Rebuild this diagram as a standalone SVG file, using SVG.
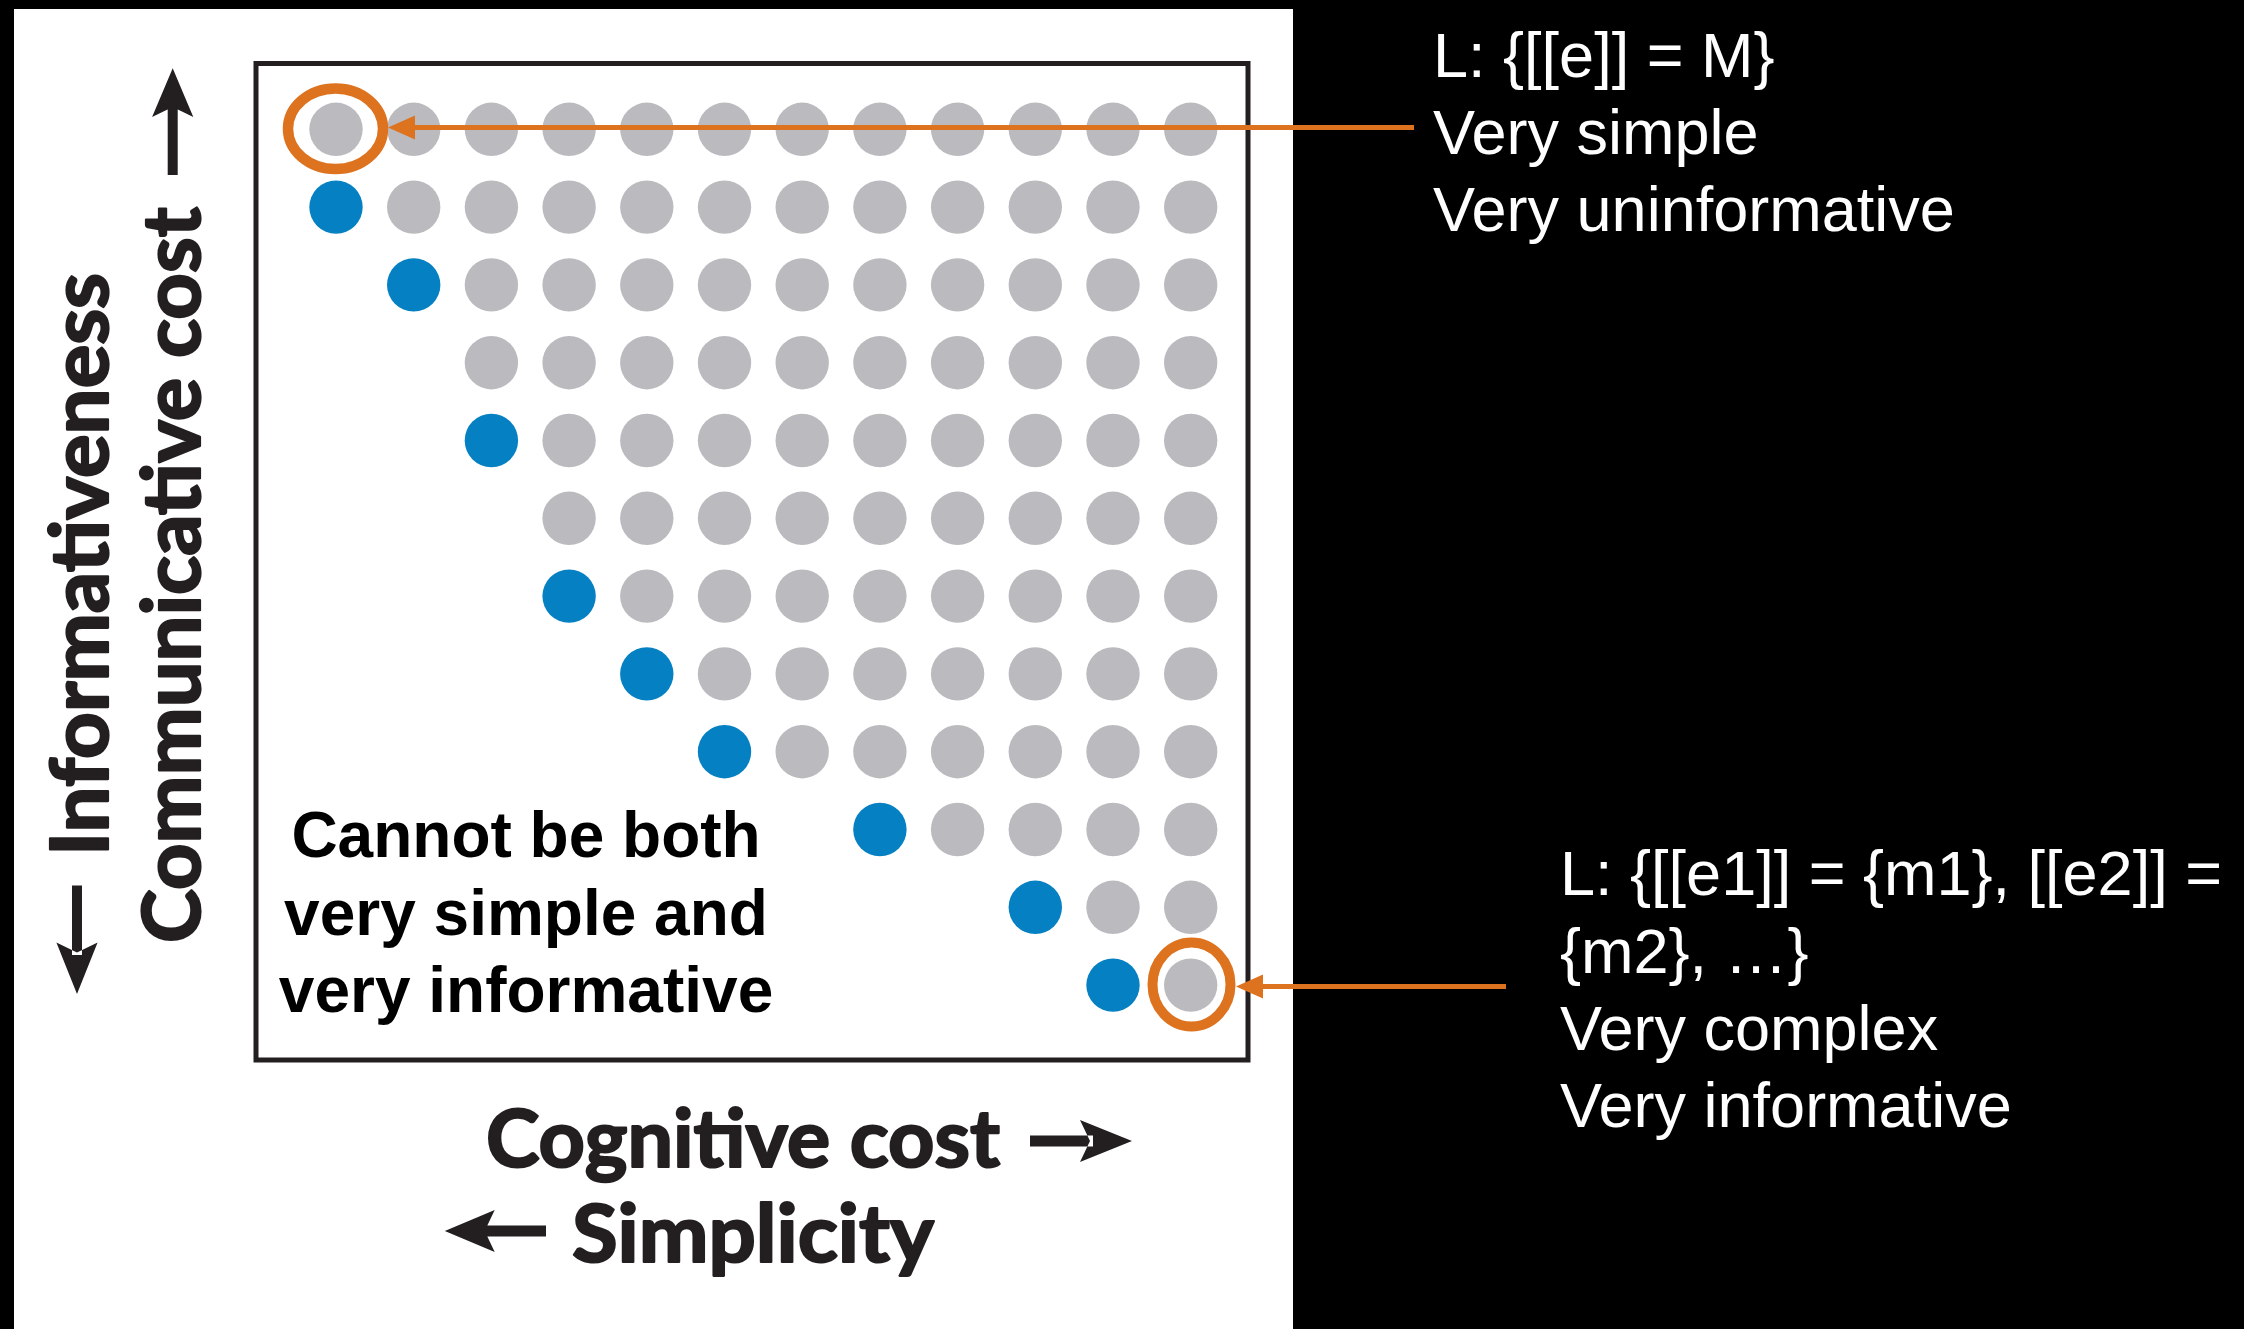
<svg xmlns="http://www.w3.org/2000/svg" width="2244" height="1329" viewBox="0 0 2244 1329">
<style>
.g{fill:#bbbbbf}
.b{fill:#0580c2}
.ring{fill:none;stroke:#dd721f}
.lead{stroke:#dd721f;stroke-width:5;fill:none}
.note{font-family:"Liberation Sans",Arial,sans-serif;font-size:63px;fill:#ffffff}
.claim{font-family:"Liberation Sans",Arial,sans-serif;font-weight:700;font-size:64px;fill:#000000;text-anchor:middle}
.axis{font-family:Lato,"Open Sans",sans-serif;font-weight:700;font-size:80px;fill:#231f20;stroke:#231f20;stroke-width:2.2px;stroke-linejoin:round}
.arr{fill:#231f20}
</style>
<defs>
<marker id="oh" markerUnits="userSpaceOnUse" markerWidth="28" markerHeight="26" refX="7" refY="12" orient="auto" viewBox="0 0 28 24">
<path d="M0,0 L27,12 L0,24 z" fill="#dd721f"/>
</marker>
</defs>
<rect x="0" y="0" width="2244" height="1329" fill="#000000"/>
<rect id="panel" x="14" y="9" width="1279" height="1320" fill="#ffffff"/>
<rect id="frame" x="256" y="63.5" width="992" height="996.5" fill="none" stroke="#231f20" stroke-width="5"/>
<g id="dots">
<g id="row0" transform="translate(0,129.3)"><circle class="g" cx="336" cy="0" r="26.7"/><circle class="g" cx="413.7" cy="0" r="26.7"/><circle class="g" cx="491.4" cy="0" r="26.7"/><circle class="g" cx="569.1" cy="0" r="26.7"/><circle class="g" cx="646.8" cy="0" r="26.7"/><circle class="g" cx="724.5" cy="0" r="26.7"/><circle class="g" cx="802.2" cy="0" r="26.7"/><circle class="g" cx="879.9" cy="0" r="26.7"/><circle class="g" cx="957.6" cy="0" r="26.7"/><circle class="g" cx="1035.3" cy="0" r="26.7"/><circle class="g" cx="1113" cy="0" r="26.7"/><circle class="g" cx="1190.7" cy="0" r="26.7"/></g>
<g id="row1" transform="translate(0,207.1)"><circle class="b" cx="336" cy="0" r="26.7"/><circle class="g" cx="413.7" cy="0" r="26.7"/><circle class="g" cx="491.4" cy="0" r="26.7"/><circle class="g" cx="569.1" cy="0" r="26.7"/><circle class="g" cx="646.8" cy="0" r="26.7"/><circle class="g" cx="724.5" cy="0" r="26.7"/><circle class="g" cx="802.2" cy="0" r="26.7"/><circle class="g" cx="879.9" cy="0" r="26.7"/><circle class="g" cx="957.6" cy="0" r="26.7"/><circle class="g" cx="1035.3" cy="0" r="26.7"/><circle class="g" cx="1113" cy="0" r="26.7"/><circle class="g" cx="1190.7" cy="0" r="26.7"/></g>
<g id="row2" transform="translate(0,284.9)"><circle class="b" cx="413.7" cy="0" r="26.7"/><circle class="g" cx="491.4" cy="0" r="26.7"/><circle class="g" cx="569.1" cy="0" r="26.7"/><circle class="g" cx="646.8" cy="0" r="26.7"/><circle class="g" cx="724.5" cy="0" r="26.7"/><circle class="g" cx="802.2" cy="0" r="26.7"/><circle class="g" cx="879.9" cy="0" r="26.7"/><circle class="g" cx="957.6" cy="0" r="26.7"/><circle class="g" cx="1035.3" cy="0" r="26.7"/><circle class="g" cx="1113" cy="0" r="26.7"/><circle class="g" cx="1190.7" cy="0" r="26.7"/></g>
<g id="row3" transform="translate(0,362.7)"><circle class="g" cx="491.4" cy="0" r="26.7"/><circle class="g" cx="569.1" cy="0" r="26.7"/><circle class="g" cx="646.8" cy="0" r="26.7"/><circle class="g" cx="724.5" cy="0" r="26.7"/><circle class="g" cx="802.2" cy="0" r="26.7"/><circle class="g" cx="879.9" cy="0" r="26.7"/><circle class="g" cx="957.6" cy="0" r="26.7"/><circle class="g" cx="1035.3" cy="0" r="26.7"/><circle class="g" cx="1113" cy="0" r="26.7"/><circle class="g" cx="1190.7" cy="0" r="26.7"/></g>
<g id="row4" transform="translate(0,440.5)"><circle class="b" cx="491.4" cy="0" r="26.7"/><circle class="g" cx="569.1" cy="0" r="26.7"/><circle class="g" cx="646.8" cy="0" r="26.7"/><circle class="g" cx="724.5" cy="0" r="26.7"/><circle class="g" cx="802.2" cy="0" r="26.7"/><circle class="g" cx="879.9" cy="0" r="26.7"/><circle class="g" cx="957.6" cy="0" r="26.7"/><circle class="g" cx="1035.3" cy="0" r="26.7"/><circle class="g" cx="1113" cy="0" r="26.7"/><circle class="g" cx="1190.7" cy="0" r="26.7"/></g>
<g id="row5" transform="translate(0,518.3)"><circle class="g" cx="569.1" cy="0" r="26.7"/><circle class="g" cx="646.8" cy="0" r="26.7"/><circle class="g" cx="724.5" cy="0" r="26.7"/><circle class="g" cx="802.2" cy="0" r="26.7"/><circle class="g" cx="879.9" cy="0" r="26.7"/><circle class="g" cx="957.6" cy="0" r="26.7"/><circle class="g" cx="1035.3" cy="0" r="26.7"/><circle class="g" cx="1113" cy="0" r="26.7"/><circle class="g" cx="1190.7" cy="0" r="26.7"/></g>
<g id="row6" transform="translate(0,596.1)"><circle class="b" cx="569.1" cy="0" r="26.7"/><circle class="g" cx="646.8" cy="0" r="26.7"/><circle class="g" cx="724.5" cy="0" r="26.7"/><circle class="g" cx="802.2" cy="0" r="26.7"/><circle class="g" cx="879.9" cy="0" r="26.7"/><circle class="g" cx="957.6" cy="0" r="26.7"/><circle class="g" cx="1035.3" cy="0" r="26.7"/><circle class="g" cx="1113" cy="0" r="26.7"/><circle class="g" cx="1190.7" cy="0" r="26.7"/></g>
<g id="row7" transform="translate(0,673.9)"><circle class="b" cx="646.8" cy="0" r="26.7"/><circle class="g" cx="724.5" cy="0" r="26.7"/><circle class="g" cx="802.2" cy="0" r="26.7"/><circle class="g" cx="879.9" cy="0" r="26.7"/><circle class="g" cx="957.6" cy="0" r="26.7"/><circle class="g" cx="1035.3" cy="0" r="26.7"/><circle class="g" cx="1113" cy="0" r="26.7"/><circle class="g" cx="1190.7" cy="0" r="26.7"/></g>
<g id="row8" transform="translate(0,751.7)"><circle class="b" cx="724.5" cy="0" r="26.7"/><circle class="g" cx="802.2" cy="0" r="26.7"/><circle class="g" cx="879.9" cy="0" r="26.7"/><circle class="g" cx="957.6" cy="0" r="26.7"/><circle class="g" cx="1035.3" cy="0" r="26.7"/><circle class="g" cx="1113" cy="0" r="26.7"/><circle class="g" cx="1190.7" cy="0" r="26.7"/></g>
<g id="row9" transform="translate(0,829.5)"><circle class="b" cx="879.9" cy="0" r="26.7"/><circle class="g" cx="957.6" cy="0" r="26.7"/><circle class="g" cx="1035.3" cy="0" r="26.7"/><circle class="g" cx="1113" cy="0" r="26.7"/><circle class="g" cx="1190.7" cy="0" r="26.7"/></g>
<g id="row10" transform="translate(0,907.3)"><circle class="b" cx="1035.3" cy="0" r="26.7"/><circle class="g" cx="1113" cy="0" r="26.7"/><circle class="g" cx="1190.7" cy="0" r="26.7"/></g>
<g id="row11" transform="translate(0,985.1)"><circle class="b" cx="1113" cy="0" r="26.7"/><circle class="g" cx="1190.7" cy="0" r="26.7"/></g>
</g>
<g id="connectors">
<line class="lead" x1="1414" y1="127.5" x2="408" y2="127.5" marker-end="url(#oh)"/>
<line class="lead" x1="1506" y1="986.5" x2="1256" y2="986.5" marker-end="url(#oh)"/>
</g>
<g id="highlight-simple"><ellipse class="ring" cx="335.5" cy="128.8" rx="47.5" ry="40.3" stroke-width="10.5"/></g>
<g id="highlight-complex"><ellipse class="ring" cx="1191.5" cy="984.5" rx="39" ry="42" stroke-width="10"/></g>
<g id="claim">
<text class="claim" x="526" y="857">Cannot be both</text>
<text class="claim" x="526" y="935">very simple and</text>
<text class="claim" x="526" y="1012">very informative</text>
</g>
<g id="y-axis">
<text class="axis" transform="translate(108,856) rotate(-90)" x="0" y="0" textLength="583" lengthAdjust="spacingAndGlyphs">Informativeness</text>
<text class="axis" transform="translate(200,943) rotate(-90)" x="0" y="0" textLength="736" lengthAdjust="spacingAndGlyphs">Communicative cost</text>
<path class="arr" d="M172.7,68.3 L193.3,117 L172.7,107 L152.1,117 Z M167.7,105 H177.7 V175 H167.7 Z"/>
<path class="arr" d="M77,994 L97.6,942.5 L77,952.5 L56.4,942.5 Z M72,885.6 H82 V955 H72 Z"/>
</g>
<g id="x-axis">
<text class="axis" x="486" y="1167" textLength="514" lengthAdjust="spacingAndGlyphs">Cognitive cost</text>
<text class="axis" x="572" y="1262" textLength="362" lengthAdjust="spacingAndGlyphs">Simplicity</text>
<path class="arr" d="M1132,1141 L1080,1120 L1090,1141 L1080,1162 Z M1030,1135.5 H1093 V1146.5 H1030 Z"/>
<path class="arr" d="M444.8,1231 L494.7,1210 L484.7,1231 L494.7,1252 Z M482,1225.5 H546 V1236.5 H482 Z"/>
</g>
<g id="note-simple">
<text class="note" x="1433" y="77">L: {[[e]] = M}</text>
<text class="note" x="1433" y="154">Very simple</text>
<text class="note" x="1433" y="231">Very uninformative</text>
</g>
<g id="note-complex">
<text class="note" x="1560" y="895">L: {[[e1]] = {m1}, [[e2]] =</text>
<text class="note" x="1560" y="973">{m2}, …}</text>
<text class="note" x="1560" y="1050">Very complex</text>
<text class="note" x="1560" y="1127">Very informative</text>
</g>
</svg>
